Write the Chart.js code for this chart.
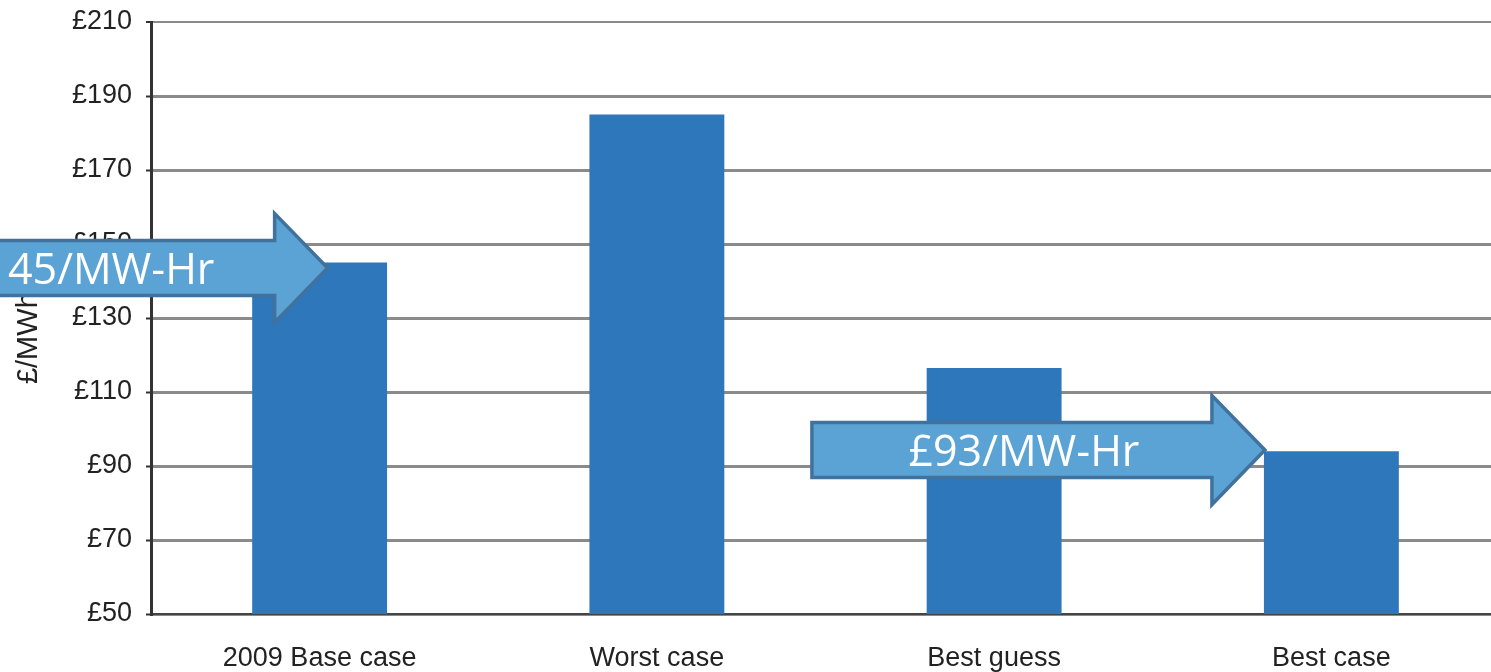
<!DOCTYPE html>
<html><head><meta charset="utf-8">
<script src="https://cdn.jsdelivr.net/npm/chart.js@4"></script>
<style>html,body{margin:0;padding:0;background:#fff;overflow:hidden}#wrap{width:1491px;height:672px;position:relative;overflow:hidden}</style>
</head><body><div id="wrap"><canvas id="c" width="1500" height="672"></canvas></div>
<script>
// ---- data ----
const categories = ['2009 Base case', 'Worst case', 'Best guess', 'Best case'];
const costValues = [145, 185, 116.5, 94];
const yTickValues = [50, 70, 90, 110, 130, 150, 170, 190, 210];
const yAxisTitle = '£/MWh';
// annotation arrows
const arrowLabels = ['£145/MW-Hr', '£93/MW-Hr'];
const arrowTargetIndex = [0, 3];
const arrowTargetValue = [143.5, 94.3];

const arrowPlugin = {
  id: 'arrows',
  afterDraw(chart) {
    const ctx = chart.ctx;
    const y = chart.scales.y;
    const meta = chart.getDatasetMeta(0);
    arrowLabels.forEach((label, i) => {
      const bar = meta.data[arrowTargetIndex[i]];
      const tipX = i === 0 ? bar.x + 8 : bar.x - bar.width / 2 + 1;
      const tipY = y.getPixelForValue(arrowTargetValue[i]);
      const headLen = 53, headHalf = 54.5, bodyHalf = 27.5;
      const bodyLen = i === 0 ? 380 : 400;
      const hb = tipX - headLen;
      const bl = hb - bodyLen;
      ctx.save();
      ctx.beginPath();
      ctx.moveTo(bl, tipY - bodyHalf);
      ctx.lineTo(hb, tipY - bodyHalf);
      ctx.lineTo(hb, tipY - headHalf);
      ctx.lineTo(tipX, tipY);
      ctx.lineTo(hb, tipY + headHalf);
      ctx.lineTo(hb, tipY + bodyHalf);
      ctx.lineTo(bl, tipY + bodyHalf);
      ctx.closePath();
      ctx.fillStyle = '#5BA3D5';
      ctx.fill();
      ctx.lineWidth = 3.5;
      ctx.strokeStyle = '#41729D';
      ctx.lineJoin = 'miter';
      ctx.stroke();
      ctx.fillStyle = '#ffffff';
      ctx.font = '43px "Open Sans", "Liberation Sans", sans-serif';
      ctx.textAlign = 'center';
      ctx.textBaseline = 'alphabetic';
      ctx.fillText(label, tipX - 241, tipY + 16);
      ctx.restore();
    });
  }
};

const tickFont = { family: '"Liberation Sans", Arial, sans-serif', size: 27 };

new Chart(document.getElementById('c'), {
  type: 'bar',
  data: {
    labels: categories,
    datasets: [{
      data: costValues,
      backgroundColor: '#2E77BB',
      borderWidth: 0,
      barPercentage: 0.4,
      categoryPercentage: 1.0
    }]
  },
  options: {
    responsive: false,
    animation: false,
    devicePixelRatio: 1,
    layout: { padding: { top: 22, right: 0, left: 0, bottom: 0 } },
    plugins: { legend: { display: false }, tooltip: { enabled: false } },
    scales: {
      x: {
        afterFit: s => { s.height = 58; s.paddingLeft = 0; s.paddingRight = 0; },
        grid: { display: false },
        border: { display: true, color: '#444', width: 2 },
        ticks: { font: tickFont, color: '#222', padding: 20, maxRotation: 0, autoSkip: false }
      },
      y: {
        min: 50, max: 210,
        afterBuildTicks: s => { s.ticks = yTickValues.map(v => ({ value: v })); },
        afterFit: s => { s.width = 151; s.paddingTop = 0; s.paddingBottom = 0; },
        grid: {
          color: '#8a8a8a',
          lineWidth: c => (c.tick && c.tick.value === 210) ? 2 : 3,
          tickColor: '#333',
          tickLength: 5,
          tickWidth: 2
        },
        border: { display: true, color: '#333', width: 3 },
        ticks: { font: tickFont, color: '#222', padding: 14, callback: v => '£' + v },
        title: { display: true, text: yAxisTitle + '\u00a0\u00a0\u00a0\u00a0\u00a0', font: { family: tickFont.family, size: 29 }, color: '#222', padding: { top: 12, bottom: 0 } }
      }
    }
  },
  plugins: [arrowPlugin]
});
</script>
</body></html>
